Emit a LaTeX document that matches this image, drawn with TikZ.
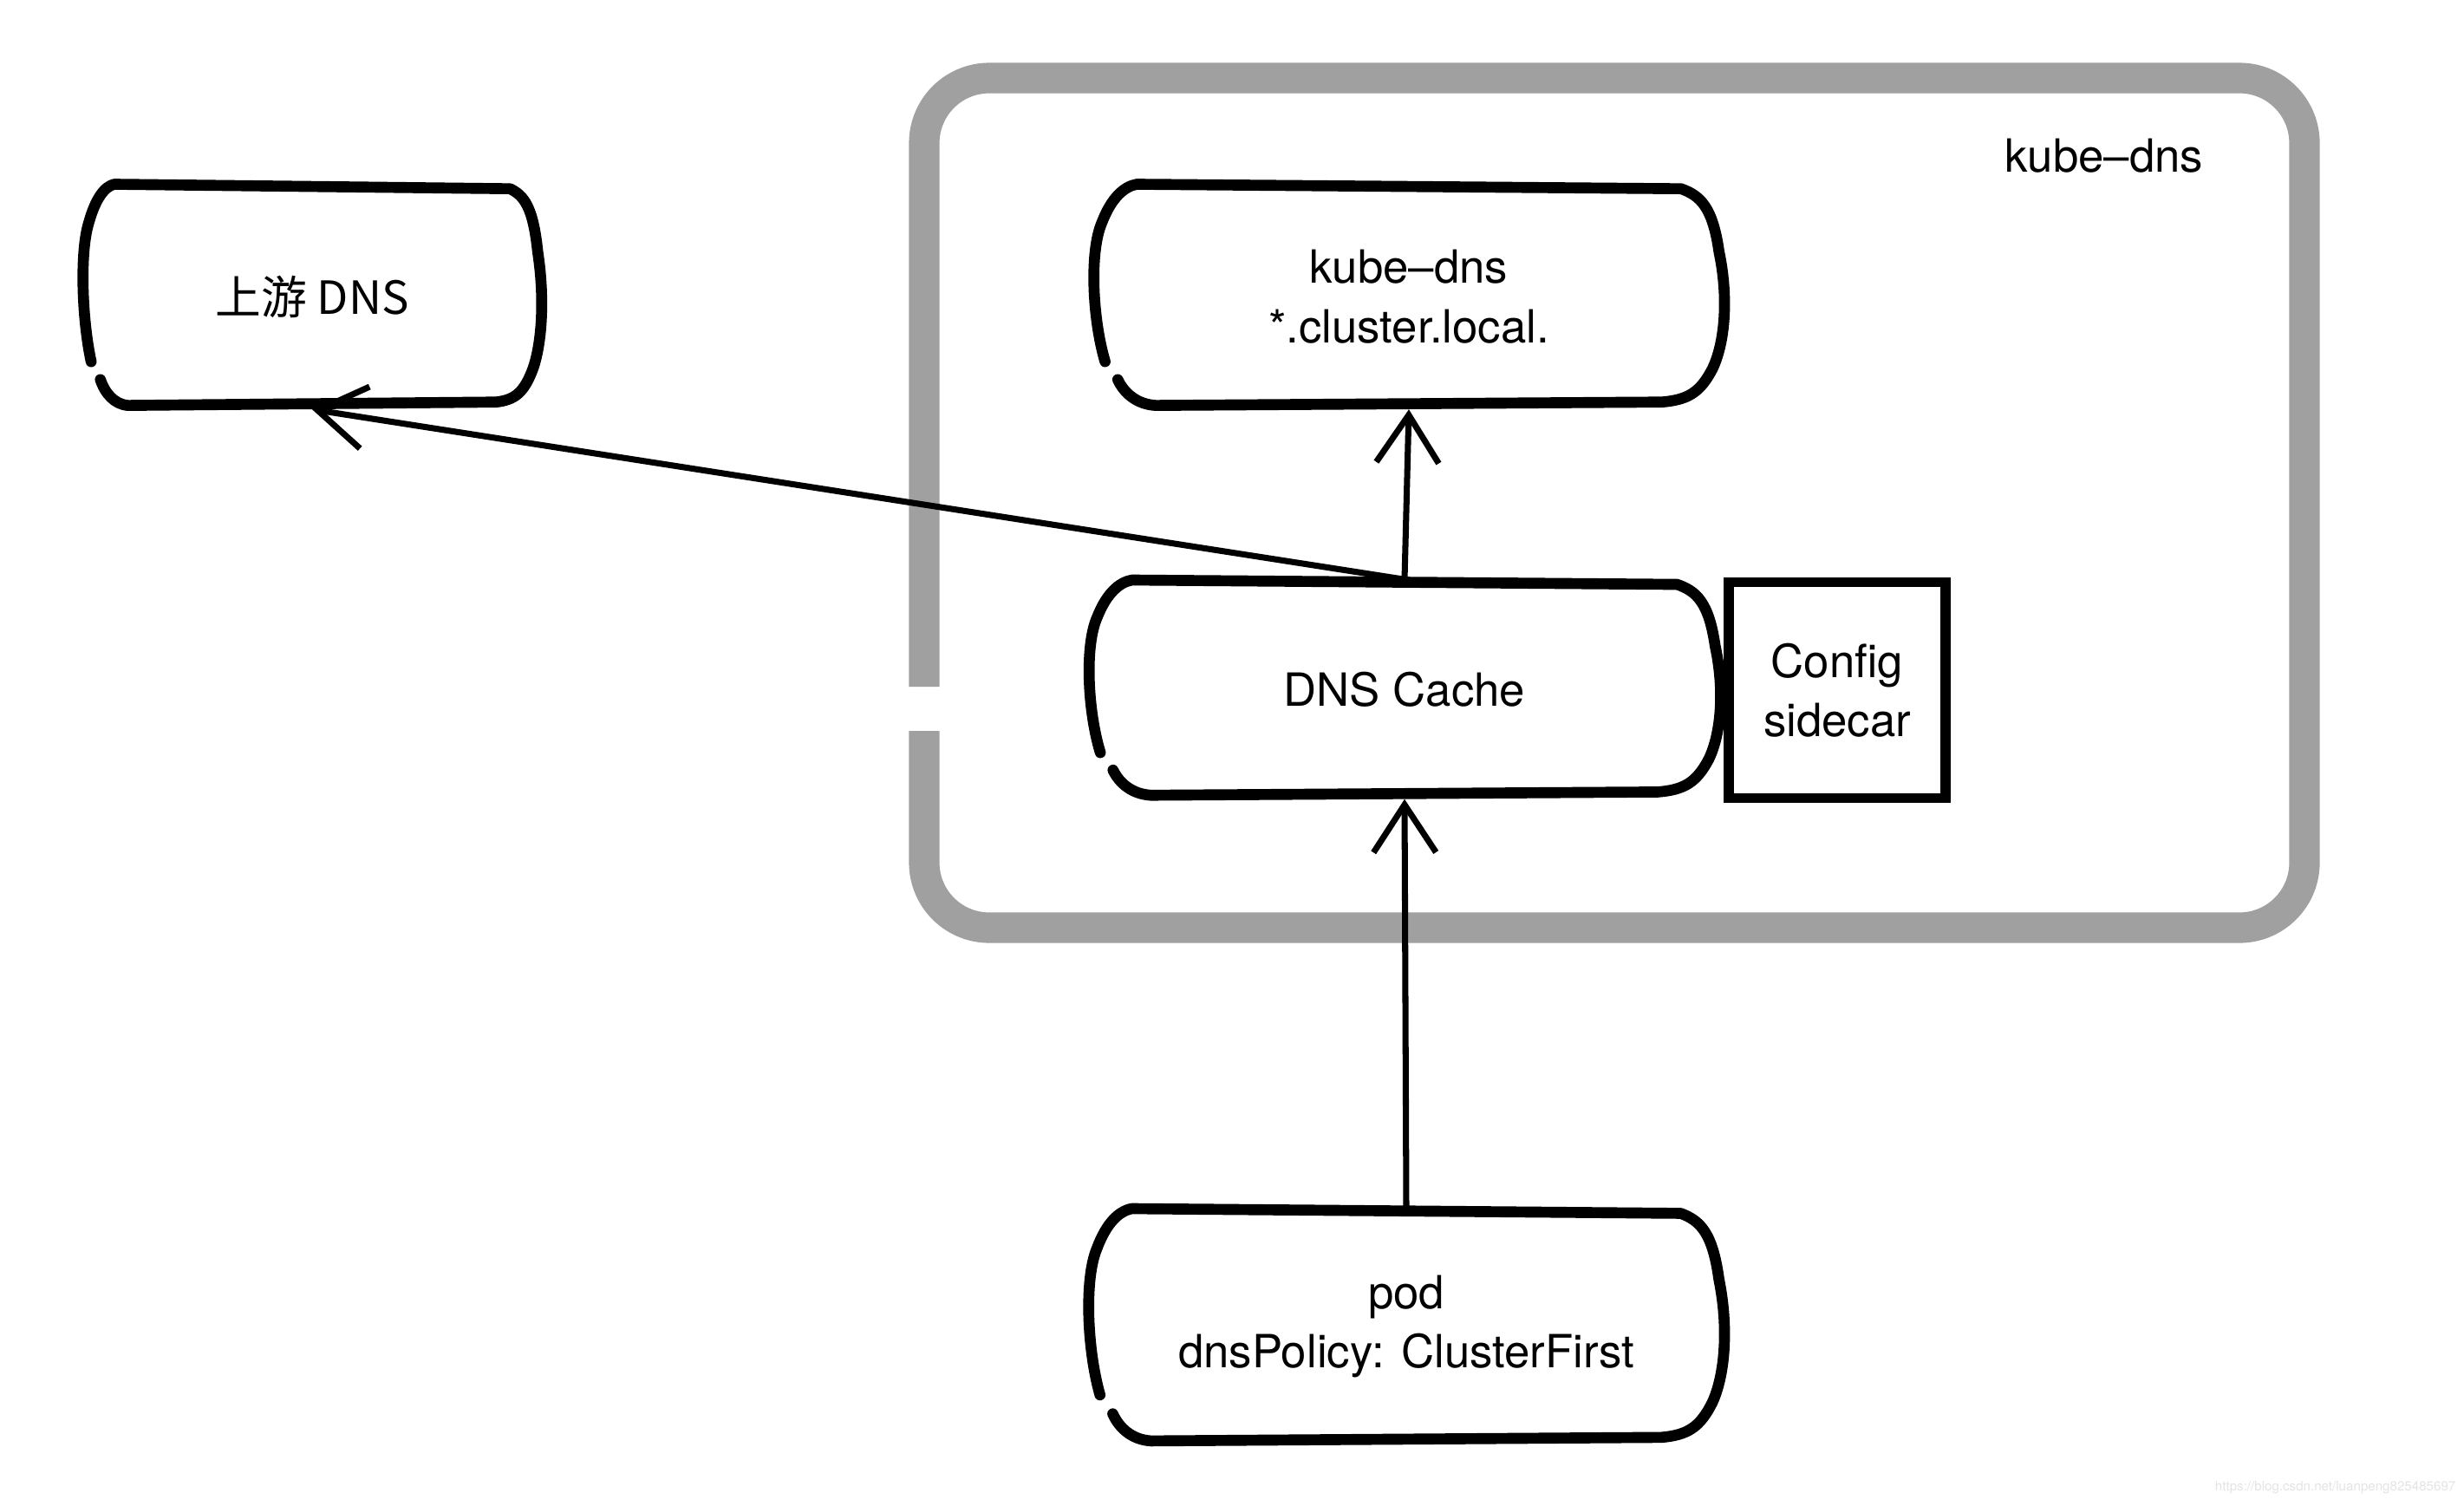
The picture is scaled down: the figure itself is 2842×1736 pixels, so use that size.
\documentclass[tikz,border=0pt]{standalone}
\usepackage{fontspec}
\setmainfont{TeX Gyre Heros}
\newfontfamily\cjk{Noto Sans CJK SC}
\usetikzlibrary{arrows.meta}
\definecolor{framegray}{HTML}{A0A0A0}
\definecolor{wmgray}{HTML}{E4E4E4}
\tikzset{
  boxline/.style={line width=3.6pt, line cap=round, line join=round},
  boxtext/.style={align=center, inner sep=0pt, font=\fontsize{15}{19.5}\selectfont},
  flow/.style={line width=2pt, -{Straight Barb[length=0.55cm,width=0.72cm]}},
  framestyle/.style={draw=framegray, line width=10pt, rounded corners=0.75cm},
}
\newcommand{\skbox}[6]{%
  \node[boxtext, minimum width=#4*0.01cm, minimum height=#5*0.01cm] (#1) at (#2,#3) {#6};
  \begin{scope}[shift={(#2,#3)}, xscale=#4, yscale=#5]
    \draw[boxline] (-0.48,0.29) .. controls (-0.5,0.1) and (-0.505,-0.2) .. (-0.485,-0.33)
      .. controls (-0.47,-0.44) and (-0.45,-0.49) .. (-0.43,-0.5)
      -- (0.43,-0.48)
      .. controls (0.46,-0.45) and (0.48,-0.4) .. (0.49,-0.2)
      .. controls (0.505,0) and (0.5,0.2) .. (0.48,0.32)
      .. controls (0.46,0.43) and (0.44,0.46) .. (0.4,0.47)
      -- (-0.4,0.485)
      .. controls (-0.43,0.48) and (-0.45,0.43) .. (-0.46,0.37);
  \end{scope}}
\begin{document}
\begin{tikzpicture}[x=0.01cm,y=-0.01cm]
\useasboundingbox (0,0) rectangle (2842,1736);
\fill[white] (0,0) rectangle (2842,1736);
% outer kube-dns container
\draw[framestyle] (1066,843) -- (1066,1070) -- (2658,1070) -- (2658,90) -- (1066,90) -- (1066,792);
\node[boxtext] (lbl) at (2427,180) {kube–dns};
% boxes
\skbox{up}{360}{342}{531}{259}{{\cjk 上游 DNS}}
\skbox{kube}{1625}{342}{730}{259}{kube–dns\\*.cluster.local.}
\skbox{cache}{1620}{795}{731}{252}{DNS Cache}
\skbox{pod}{1622}{1530}{736}{272}{pod\\dnsPolicy: ClusterFirst}
\node[boxtext, draw, line width=3.2pt, minimum width=2.5cm, minimum height=2.49cm] (cfg) at (2119,796) {Config\\sidecar};
% connectors
\draw[flow] (cache.north) -- (kube.south);
\draw[flow] (cache.north) -- (up.south);
\draw[flow] (pod.north) -- (cache.south);
% watermark
\node[anchor=east, inner sep=0pt, text=wmgray, font=\fontsize{4.3}{5}\selectfont] (wm) at (2833,1716) {https://blog.csdn.net/luanpeng825485697};
\end{tikzpicture}
\end{document}
